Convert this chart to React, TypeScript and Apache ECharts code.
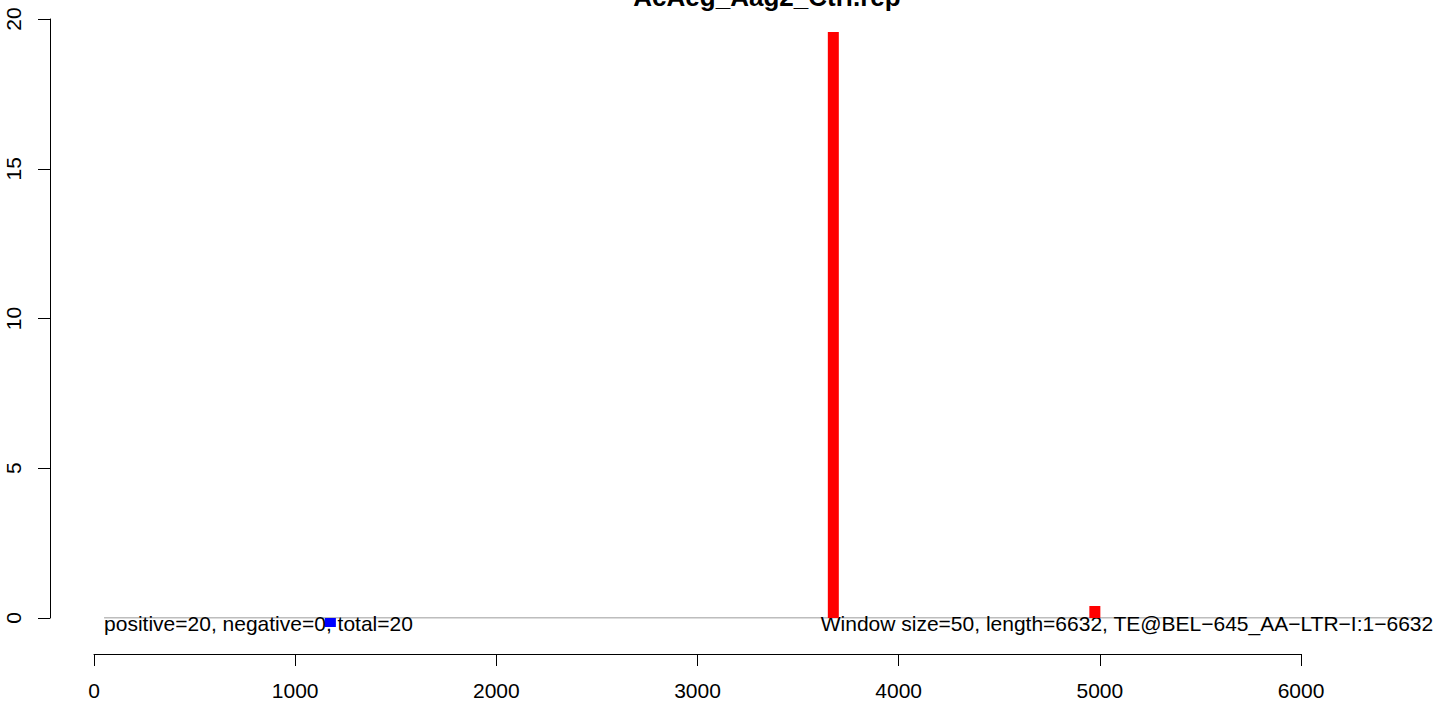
import React, { useEffect, useRef } from "react";
import * as echarts from "echarts";

const chartTitle = "AcAeg_Aag2_Ctrl.rep";
const summaryText = "positive=20, negative=0, total=20";
const infoText = "Window size=50, length=6632, TE@BEL\u2212645_AA\u2212LTR\u2212I:1\u22126632";

const seqLength = 6632;
const windowStart = 50;

const positiveWindows = [3675, 4975];
const positiveValues = [19.57, 0.4];
const negativeWindows = [1175];
const negativeValues = [-0.3];

const xTickMax = 6000;
const xTickStep = 1000;
const yTickMax = 20;
const yTickStep = 5;

const FONT = '"Liberation Sans", Arial, Helvetica, sans-serif';

export default function App() {
  const ref = useRef<HTMLDivElement>(null);
  useEffect(() => {
    if (!ref.current) return;
    const chart = echarts.init(ref.current, null, { renderer: "svg" });
    const option: any = {
      animation: false,
      backgroundColor: "#ffffff",
      textStyle: { fontFamily: FONT },
      graphic: [
        {
          type: "text",
          x: 767,
          y: -3,
          z: 10,
          style: {
            text: chartTitle,
            fill: "#000",
            font: `bold 26px ${FONT}`,
            align: "center",
            verticalAlign: "middle",
          },
        },
      ],
      grid: [
        { left: 94, top: 19, width: 1334.2, height: 599, containLabel: false },
        { left: 94, top: 600, width: 1207, height: 54, containLabel: false },
      ],
      xAxis: [
        { gridIndex: 0, type: "value", min: 0, max: seqLength, show: false },
        {
          gridIndex: 1,
          type: "value",
          min: 0,
          max: xTickMax,
          interval: xTickStep,
          position: "bottom",
          splitLine: { show: false },
          axisLine: { show: true, onZero: false, lineStyle: { color: "#000", width: 1 } },
          axisTick: { show: true, length: 12, lineStyle: { color: "#000", width: 1 } },
          axisLabel: {
            show: true,
            margin: 26,
            color: "#000",
            fontSize: 21,
            fontFamily: FONT,
            formatter: (v: number) => String(v),
          },
        },
      ],
      yAxis: [
        {
          gridIndex: 0,
          type: "value",
          position: "left",
          min: 0,
          max: yTickMax,
          interval: yTickStep,
          offset: 44,
          splitLine: { show: false },
          axisLine: { show: true, onZero: false, lineStyle: { color: "#000", width: 1 } },
          axisTick: { show: true, length: 12, lineStyle: { color: "#000", width: 1 } },
          axisLabel: {
            show: true,
            rotate: 90,
            margin: 26,
            color: "#000",
            fontSize: 21,
            fontFamily: FONT,
            formatter: (v: number) => String(v),
          },
        },
        { gridIndex: 1, type: "value", show: false, min: 0, max: 1 },
      ],
      series: [
        {
          type: "line",
          xAxisIndex: 0,
          yAxisIndex: 0,
          data: [
            [windowStart, 0],
            [seqLength, 0],
          ],
          symbol: "none",
          lineStyle: { color: "#7a7a7a", width: 1 },
          z: 1,
          silent: true,
        },
        {
          type: "scatter",
          xAxisIndex: 0,
          yAxisIndex: 0,
          symbolSize: 1,
          itemStyle: { color: "transparent", opacity: 1 },
          z: 2,
          silent: true,
          label: {
            show: true,
            position: "inside",
            verticalAlign: "middle",
            color: "#000",
            opacity: 1,
            fontSize: 21,
            fontFamily: FONT,
            offset: [0, 5],
          },
          data: [
            {
              value: [windowStart, 0],
              label: { formatter: summaryText, align: "left", color: "#000" },
            },
            {
              value: [seqLength, 0],
              label: { formatter: infoText, align: "right", color: "#000", offset: [5, 5] },
            },
          ],
        },
        {
          type: "bar",
          name: "positive",
          xAxisIndex: 0,
          yAxisIndex: 0,
          barWidth: 11,
          barGap: "-100%",
          clip: false,
          z: 3,
          itemStyle: { color: "#ff0000" },
          data: positiveWindows.map((x, i) => [x, positiveValues[i]]),
        },
        {
          type: "bar",
          name: "negative",
          xAxisIndex: 0,
          yAxisIndex: 0,
          barWidth: 11,
          barGap: "-100%",
          clip: false,
          z: 3,
          itemStyle: { color: "#0000ff" },
          data: negativeWindows.map((x, i) => [x, negativeValues[i]]),
        },
      ],
    };
    chart.setOption(option);
    return () => chart.dispose();
  }, []);
  return (
    <div
      ref={ref}
      style={{ position: "fixed", left: 0, top: 0, width: 1449, height: 704, background: "#fff" }}
    />
  );
}
